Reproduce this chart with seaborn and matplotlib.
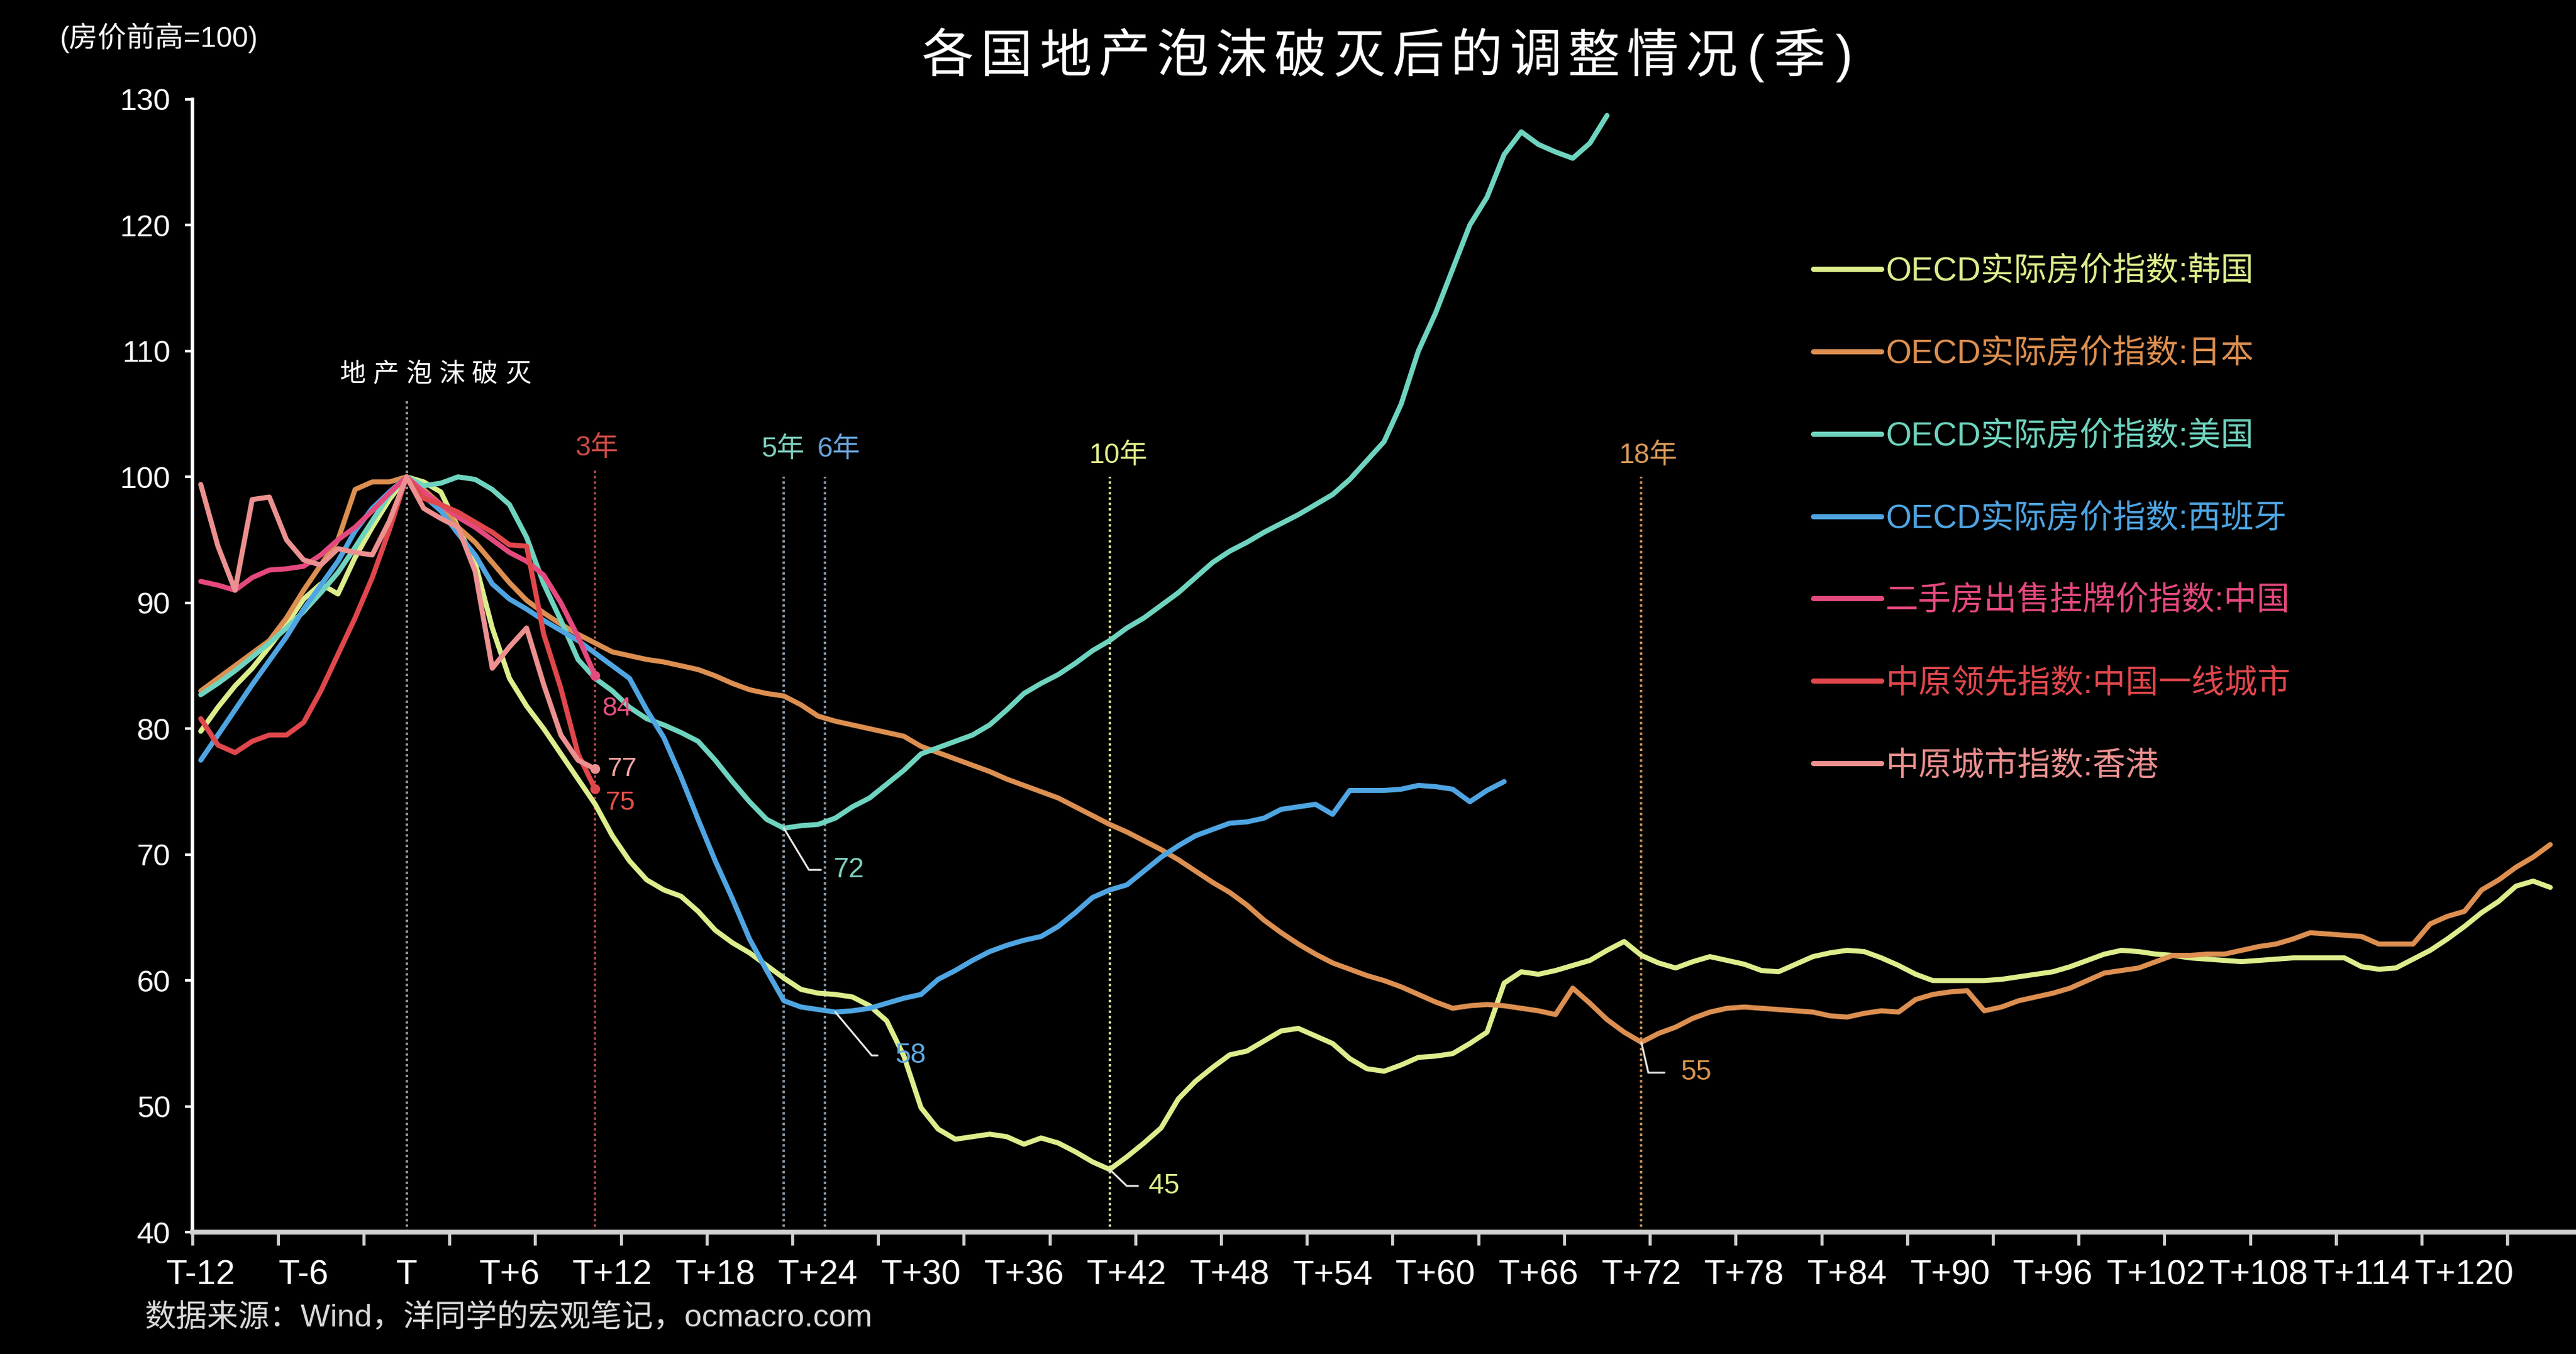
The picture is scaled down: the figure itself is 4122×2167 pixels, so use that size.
import numpy as np
import pandas as pd
import matplotlib
matplotlib.use("Agg")
import matplotlib.pyplot as plt
import seaborn as sns

# ---------------- data ----------------
quarter_labels = ["T-12", "T-6", "T", "T+6", "T+12", "T+18", "T+24", "T+30", "T+36",
                  "T+42", "T+48", "T+54", "T+60", "T+66", "T+72", "T+78", "T+84",
                  "T+90", "T+96", "T+102", "T+108", "T+114", "T+120"]
label_quarters = list(range(-12, 121, 6))

korea_q = list(range(-12, 126))
korea = [79.8, 81.7, 83.4, 84.8, 86.5, 88.3, 90.3, 91.5, 90.7, 93.6, 96.0, 98.2, 100.0,
         99.6, 98.8, 96.0, 93.2, 88.0, 84.0, 81.8, 80.0, 78.0, 76.0,
         74.0, 71.5, 69.5, 68.0, 67.2, 66.7, 65.5, 64.0, 63.0, 62.2,
         61.2, 60.2, 59.3, 59.0, 58.9, 58.7, 58.0, 56.8, 54.0, 49.9,
         48.2, 47.4, 47.6, 47.8, 47.6, 47.0, 47.5, 47.1, 46.4, 45.6,
         45.0, 46.0, 47.1, 48.3, 50.6, 52.0, 53.1, 54.1, 54.4, 55.2,
         56.0, 56.2, 55.6, 55.0, 53.8, 53.0, 52.8, 53.3, 53.9, 54.0,
         54.2, 55.0, 55.9, 59.8, 60.7, 60.5, 60.8, 61.2, 61.6, 62.4,
         63.1, 62.0, 61.4, 61.0, 61.5, 61.9, 61.6, 61.3, 60.8, 60.7,
         61.3, 61.9, 62.2, 62.4, 62.3, 61.8, 61.2, 60.5, 60.0, 60.0,
         60.0, 60.0, 60.1, 60.3, 60.5, 60.7, 61.1, 61.6, 62.1, 62.4,
         62.3, 62.1, 62.0, 61.8, 61.7, 61.6, 61.5, 61.6, 61.7, 61.8,
         61.8, 61.8, 61.8, 61.1, 60.9, 61.0, 61.7, 62.4, 63.3, 64.3,
         65.4, 66.3, 67.5, 67.9, 67.4]

japan_q = list(range(-12, 126))
japan = [83.0, 84.0, 85.0, 86.0, 87.0, 88.8, 91.0, 93.0, 95.0, 99.0, 99.6, 99.6, 100.0,
         99.0, 97.8, 96.0, 94.8, 93.2, 91.6, 90.2, 89.2, 88.3, 87.5,
         86.8, 86.1, 85.8, 85.5, 85.3, 85.0, 84.7, 84.2, 83.6, 83.1,
         82.8, 82.6, 81.9, 81.0, 80.6, 80.3, 80.0, 79.7, 79.4, 78.6,
         78.1, 77.6, 77.1, 76.6, 76.0, 75.5, 75.0, 74.5, 73.8, 73.1,
         72.4, 71.8, 71.1, 70.4, 69.6, 68.7, 67.8, 67.0, 66.0, 64.8,
         63.8, 62.9, 62.1, 61.4, 60.9, 60.4, 60.0, 59.5, 58.9, 58.3,
         57.8, 58.0, 58.1, 58.0, 57.8, 57.6, 57.3, 59.4, 58.2, 56.9,
         55.9, 55.1, 55.8, 56.3, 57.0, 57.5, 57.8, 57.9, 57.8, 57.7,
         57.6, 57.5, 57.2, 57.1, 57.4, 57.6, 57.5, 58.5, 58.9, 59.1,
         59.2, 57.6, 57.9, 58.4, 58.7, 59.0, 59.4, 60.0, 60.6, 60.8,
         61.0, 61.5, 62.0, 62.0, 62.1, 62.1, 62.4, 62.7, 62.9, 63.3,
         63.8, 63.7, 63.6, 63.5, 62.9, 62.9, 62.9, 64.5, 65.1, 65.5,
         67.2, 68.0, 69.0, 69.8, 70.8]

us_q = list(range(-12, 71))
us = [82.7, 83.6, 84.6, 85.7, 86.8, 88.0, 89.3, 90.8, 92.4, 94.4, 96.5, 98.6, 100.0,
      99.3, 99.5, 100.0, 99.8, 99.0, 97.8, 95.2, 91.5, 88.6, 85.5,
      84.0, 83.0, 81.7, 80.8, 80.3, 79.7, 79.0, 77.5, 75.8, 74.2,
      72.8, 72.1, 72.3, 72.4, 72.9, 73.8, 74.5, 75.6, 76.7, 78.0,
      78.5, 79.0, 79.5, 80.3, 81.5, 82.8, 83.6, 84.3, 85.2, 86.2,
      87.0, 88.0, 88.8, 89.8, 90.8, 92.0, 93.2, 94.1, 94.8, 95.6,
      96.3, 97.0, 97.8, 98.6, 99.8, 101.3, 102.8, 105.8, 110.0, 113.0,
      116.5, 120.0, 122.2, 125.6, 127.4, 126.4, 125.8, 125.3, 126.5, 128.7]

spain_q = list(range(-12, 65))
spain = [77.5, 79.5, 81.5, 83.5, 85.4, 87.3, 89.5, 91.4, 93.3, 95.7, 97.5, 98.8, 100.0,
         98.5, 97.3, 95.5, 93.8, 91.5, 90.3, 89.5, 88.6, 87.8, 87.0,
         86.0, 85.0, 84.0, 81.5, 79.3, 76.2, 72.8, 69.5, 66.5, 63.3,
         60.8, 58.4, 57.9, 57.7, 57.5, 57.6, 57.8, 58.2, 58.6, 58.9,
         60.1, 60.8, 61.6, 62.3, 62.8, 63.2, 63.5, 64.3, 65.4, 66.6,
         67.2, 67.6, 68.7, 69.8, 70.7, 71.5, 72.0, 72.5, 72.6, 72.9,
         73.6, 73.8, 74.0, 73.2, 75.1, 75.1, 75.1, 75.2, 75.5, 75.4,
         75.2, 74.2, 75.1, 75.8]

china_q = list(range(-12, 12))
cn_listing = [91.7, 91.4, 91.0, 92.0, 92.6, 92.7, 92.9, 93.8, 95.0, 96.0, 97.3, 98.7, 100.0,
              98.8, 97.8, 96.8, 96.0, 95.0, 94.0, 93.3, 92.2, 90.0, 87.3, 84.2]
cn_tier1 = [80.8, 78.7, 78.1, 79.0, 79.5, 79.5, 80.5, 83.0, 85.9, 88.8, 92.0, 95.8, 100.0,
            98.3, 97.8, 97.2, 96.4, 95.6, 94.6, 94.5, 87.5, 83.2, 78.0, 75.2]
hk_ccl = [99.4, 94.5, 91.0, 98.2, 98.4, 95.0, 93.4, 93.0, 94.3, 94.0, 93.8, 96.5, 100.0,
          97.5, 96.7, 96.0, 92.5, 84.8, 86.5, 88.0, 83.5, 79.5, 77.5, 76.8]

series_names = ["OECD实际房价指数:韩国", "OECD实际房价指数:日本", "OECD实际房价指数:美国",
                "OECD实际房价指数:西班牙", "二手房出售挂牌价指数:中国",
                "中原领先指数:中国一线城市", "中原城市指数:香港"]
series_colors = ["#dcee8c", "#dc8f50", "#6fd4bf", "#4fa5e2", "#e4497e", "#e0474c", "#ec9090"]
series_q = [korea_q, japan_q, us_q, spain_q, china_q, china_q, china_q]
series_v = [korea, japan, us, spain, cn_listing, cn_tier1, hk_ccl]

event_quarters = [0, 11, 22, 24.4, 41, 72]
event_tops = [106, 100.6, 100, 100, 100, 100]
event_line_colors = ["#9a9a9a", "#b0484a", "#8698a8", "#8698a8", "#e0e89a", "#c48c55"]
year_labels = ["3年", "5年", "6年", "10年", "18年"]
year_label_pos = [(11.1, 102.3), (21.95, 102.2), (25.2, 102.2), (41.5, 101.7), (72.4, 101.7)]
year_label_colors = ["#cc4a46", "#7fcfbf", "#6aa6dc", "#e4f08e", "#d9995a"]

# ---------------- frame ----------------
rows = []
for name, qs, vs in zip(series_names, series_q, series_v):
    for q, v in zip(qs, vs):
        rows.append((name, q, v))
df = pd.DataFrame(rows, columns=["series", "quarter", "value"])
palette = dict(zip(series_names, series_colors))

sns.set_style("dark", {"axes.facecolor": "black", "figure.facecolor": "black",
                       "axes.edgecolor": "white", "text.color": "white",
                       "xtick.color": "white", "ytick.color": "white", "axes.grid": False})
plt.rcParams["font.family"] = ["Liberation Sans", "Noto Sans CJK SC", "DejaVu Sans"]
plt.rcParams["axes.unicode_minus"] = False

W, H = 4122, 2167
fig = plt.figure(figsize=(W / 100, H / 100), dpi=100)
fig.patch.set_facecolor("black")
ax = fig.add_axes([0.0746, 0.0898, 0.9254, 0.8370])
ax.set_facecolor("black")

# event lines
for q, top, c in zip(event_quarters, event_tops, event_line_colors):
    ax.vlines(q, 40, top, colors=c, linestyles=(0, (1, 1.2)), linewidth=2.8, zorder=1)

sns.lineplot(data=df, x="quarter", y="value", hue="series", hue_order=series_names,
             palette=palette, estimator=None, linewidth=5.8, ax=ax, legend=True, zorder=3)

# end markers for the China series
ends = pd.DataFrame({"series": series_names[4:],
                     "quarter": [china_q[-1]] * 3,
                     "value": [cn_listing[-1], cn_tier1[-1], hk_ccl[-1]]})
sns.scatterplot(data=ends, x="quarter", y="value", hue="series", palette=palette,
                s=130, edgecolor="none", ax=ax, legend=False, zorder=4)

ax.set_xlim(-12.5, 126.5)
ax.set_ylim(40, 130)
ax.set_xlabel("")
ax.set_ylabel("")

ax.set_xticks(label_quarters)
ax.set_xticklabels(quarter_labels)
ax.set_xticks(np.arange(-12.5, 127, 5), minor=True)
ax.set_yticks(range(40, 131, 10))
ax.tick_params(axis="x", which="major", length=0, pad=31, labelsize=40, colors="white")
ax.tick_params(axis="x", which="minor", bottom=True, length=15, width=3.5,
               color="#d0d0d0", direction="out")
ax.tick_params(axis="y", which="major", left=True, length=9, width=3, color="white",
               direction="out", labelsize=35, pad=16, labelcolor="white")
for s in ["top", "right"]:
    ax.spines[s].set_visible(False)
ax.spines["bottom"].set_color("#d0d0d0")
ax.spines["bottom"].set_linewidth(5.5)
ax.spines["left"].set_color("white")
ax.spines["left"].set_linewidth(4)

# legend
old = ax.get_legend()
handles = list(old.legend_handles)
labels = [t.get_text() for t in old.get_texts()]
old.remove()
leg = ax.legend(handles, labels, loc="upper left", bbox_to_anchor=(0.704, 0.8105),
                bbox_transform=fig.transFigure, frameon=False, fontsize=38,
                labelcolor="linecolor", handlelength=2.07, handletextpad=0.12,
                labelspacing=1.55, borderpad=0, borderaxespad=0)
for h in leg.legend_handles:
    h.set_linewidth(6)

# year labels
for txt, (x, y), c in zip(year_labels, year_label_pos, year_label_colors):
    ax.text(x, y, txt, color=c, fontsize=32, ha="center", va="center", zorder=5)

# minimum call-outs
def min_callout(qs, vals, color, dx, dy, angle, gap):
    i = int(np.argmin(vals))
    ax.annotate(f"{vals[i]:.0f}", xy=(qs[i], vals[i]), xytext=(dx, dy),
                textcoords="offset points", ha="left", va="center", color=color,
                fontsize=32, zorder=6,
                arrowprops=dict(arrowstyle="-", color="#e6e6e6", lw=2.2, relpos=(0, 0.5),
                                connectionstyle=f"angle,angleA=0,angleB={angle},rad=0",
                                shrinkA=gap, shrinkB=0))

min_callout(us_q, us, "#7fd1c0", 57, -48, -59, 12)
min_callout(spain_q, spain, "#5fa9df", 69, -50, -50, 18)
min_callout(korea_q, korea, "#dcef88", 45, -19, -44, 10)
min_callout(japan_q, japan, "#d9944f", 45, -35, -77, 16)

# end labels for China series
for vals, c, off in [(cn_listing, "#e4507e", (8, -38)), (hk_ccl, "#f2a4a4", (14, 0)),
                     (cn_tier1, "#e5504a", (12, -16))]:
    ax.annotate(f"{vals[-1]:.0f}", xy=(china_q[-1], vals[-1]), xytext=off,
                textcoords="offset points", ha="left", va="center", color=c,
                fontsize=31, zorder=6)

# spaced text helper (figure coordinates)
def spaced_text(s, cx, cy, pitch, **kw):
    adv = [pitch * (0.5 if ord(ch) < 128 else 1.0) for ch in s]
    x = cx * W - sum(adv) / 2
    for ch, a in zip(s, adv):
        fig.text((x + a / 2) / W, cy, ch, ha="center", va="center", **kw)
        x += a

spaced_text("各国地产泡沫破灭后的调整情况(季)", 0.539, 0.957, 94, fontsize=60, color="white")
spaced_text("地产泡沫破灭", 0.169, 0.7233, 53, fontsize=30, color="white")

fig.text(0.023, 0.972, "(房价前高=100)", fontsize=33, color="white", ha="left", va="center")
fig.text(0.0561, 0.0267, "数据来源：Wind，洋同学的宏观笔记，ocmacro.com", fontsize=36,
         color="#d9d9d9", ha="left", va="center")

fig.savefig("out.png", dpi=100, facecolor="black")
